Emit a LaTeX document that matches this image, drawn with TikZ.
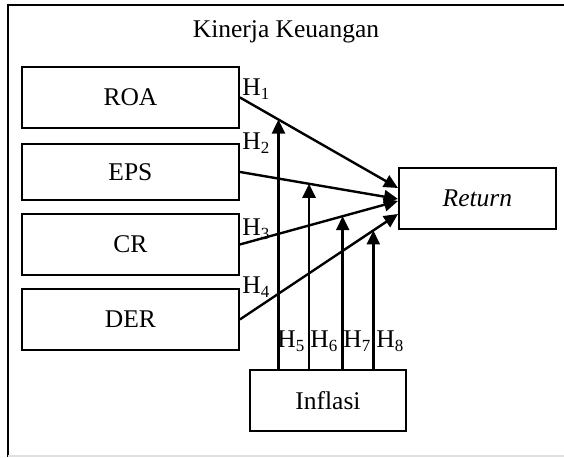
\documentclass[tikz,border=0pt]{standalone}
\usepackage{fontspec}
\setmainfont{Liberation Serif}
\usetikzlibrary{arrows.meta}
\newcommand{\hyp}[1]{H\raisebox{-2pt}{\fontsize{8.5}{10}\selectfont #1}}
\begin{document}
\begin{tikzpicture}[x=0.5pt,y=-0.5pt,
  every node/.style={font=\fontsize{12.75}{15}\selectfont},
  varbox/.style={draw=black,line width=0.95pt,inner sep=0pt,anchor=north west},
  conn/.style={line width=1.2pt,-{Triangle[width=6.5pt,length=7pt]}},
  hlab/.style={anchor=base west,inner sep=0pt}]
\useasboundingbox (0,0) rectangle (564,457);
% frame
\draw[line width=0.9pt] (564,5) -- (8,5) -- (8,457);
\draw[gray!25,line width=0.6pt] (8,456) -- (564,456);
\node[anchor=base] (title) at (286,37) {Kinerja Keuangan};
% boxes
\node[varbox,minimum width=108.5pt,minimum height=30.5pt] (roa) at (21,66) {ROA};
\node[varbox,minimum width=108.5pt,minimum height=28pt] (eps) at (21,143) {EPS};
\node[varbox,minimum width=108.5pt,minimum height=30.5pt] (cr) at (21,213) {CR};
\node[varbox,minimum width=108.5pt,minimum height=30.5pt] (der) at (21,288) {DER};
\node[varbox,minimum width=78.5pt,minimum height=30.5pt] (ret) at (398,167) {\itshape Return};
\node[varbox,minimum width=78pt,minimum height=30.5pt] (inf) at (249,369) {Inflasi};
% endpoints on Return
\coordinate (r1) at (398,188);
\coordinate (r2) at (398,199);
\coordinate (r3) at (398,201);
\coordinate (r4) at (398,214);
% main arrows
\draw[conn] (roa.east) -- coordinate[pos=0.244] (p1) (r1);
\draw[conn] (eps.east) -- coordinate[pos=0.4375] (p2) (r2);
\draw[conn] (cr.east) -- coordinate[pos=0.65] (p3) (r3);
\draw[conn] (der.east) -- coordinate[pos=0.844] (p4) (r4);
% moderating arrows
\draw[conn] (inf.north -| p1) -- (p1);
\draw[conn] (inf.north -| p2) -- (p2);
\draw[conn] (inf.north -| p3) -- (p3);
\draw[conn] (inf.north -| p4) -- (p4);
% labels
\node[hlab] (h1) at (242,95) {\hyp{1}};
\node[hlab] (h2) at (242,149) {\hyp{2}};
\node[hlab] (h3) at (242,235) {\hyp{3}};
\node[hlab] (h4) at (242,293) {\hyp{4}};
\node[hlab] (h5) at (277,347) {\hyp{5}};
\node[hlab] (h6) at (310,347) {\hyp{6}};
\node[hlab] (h7) at (343,347) {\hyp{7}};
\node[hlab] (h8) at (376,347) {\hyp{8}};
\end{tikzpicture}
\end{document}
